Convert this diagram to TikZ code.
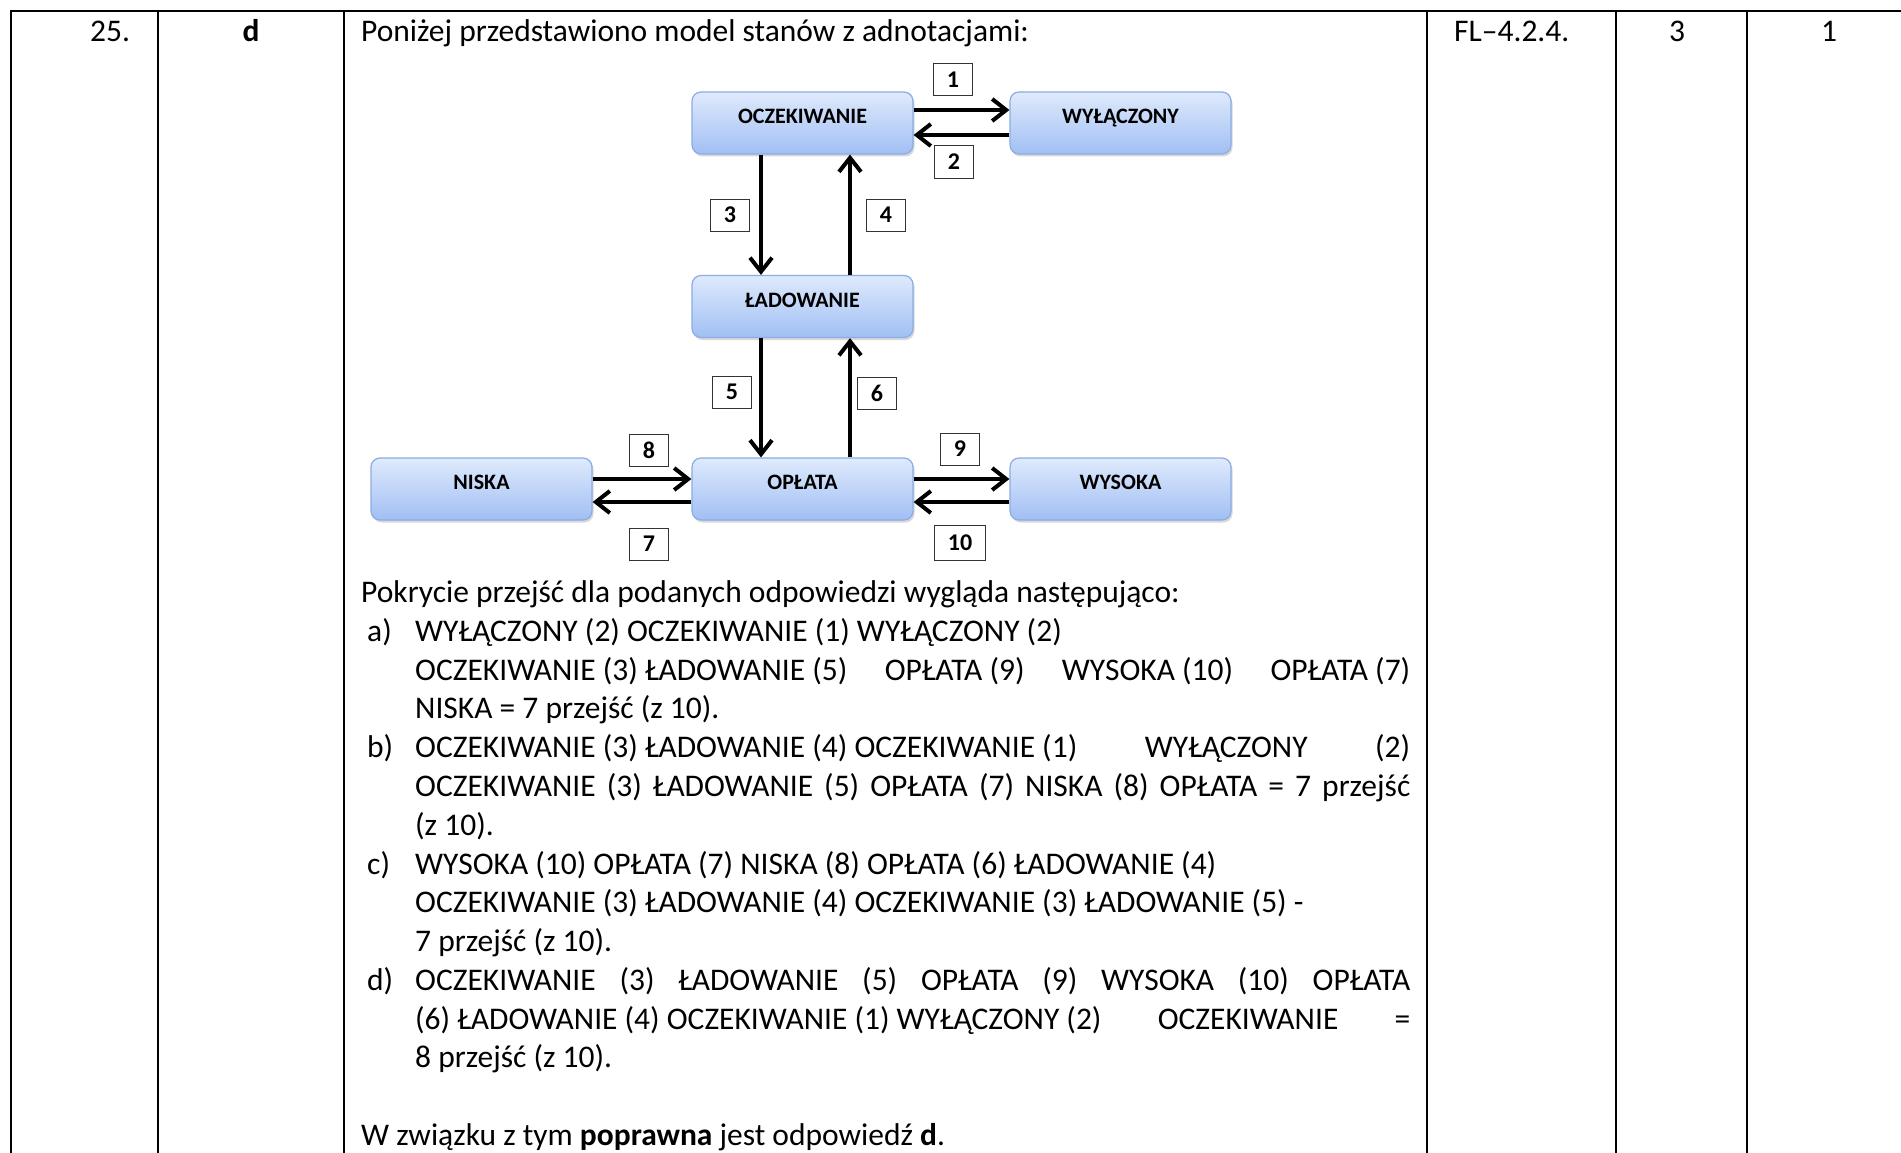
\documentclass[tikz,border=0pt]{standalone}
\usepackage{fontspec}
\setmainfont{Carlito}
\usetikzlibrary{arrows.meta,calc,shadows}
\definecolor{statetop}{HTML}{DFEAFC}
\definecolor{statebot}{HTML}{A1BFF4}
\definecolor{stateborder}{HTML}{8BACE4}
\begin{document}
\begin{tikzpicture}[x=1pt,y=-1pt,
  txt/.style={anchor=base west,inner sep=0pt,font=\fontsize{31.5}{38.8}\selectfont},
  ctr/.style={anchor=base,inner sep=0pt,font=\fontsize{31.5}{38.8}\selectfont},
  state/.style={draw=stateborder,line width=1.2pt,rounded corners=9pt,top color=statetop,bottom color=statebot,
    minimum width=221pt,minimum height=62pt,inner sep=0pt,font=\bfseries\fontsize{22}{24}\selectfont,
    drop shadow={shadow xshift=1.5pt,shadow yshift=-2.5pt,opacity=0.3}},
  num/.style={draw=black!80,line width=1pt,fill=white,minimum width=39pt,minimum height=32pt,inner sep=0pt,
    font=\bfseries\fontsize{24}{26}\selectfont},
  tr/.style={line width=4pt,-{Straight Barb[length=14pt,width=22pt]}},
  grid/.style={line width=2pt}
]
\useasboundingbox[fill=white] (0,0) rectangle (1901,1153);
% table
\draw[grid] (10,11) -- (1901,11);
\foreach \xx in {11,158,344,1427,1616,1747} { \draw[grid] (\xx,10) -- (\xx,1153); }
% header row
\node[ctr] (n25) at (110,42) {25.};
\node[ctr] (ans) at (251,42) {\textbf{d}};
\node[txt] (intro) at (361,42) {Poniżej przedstawiono model stanów z adnotacjami:};
\node[txt] (code) at (1454,42) {FL–4.2.4.};
\node[ctr] (pts) at (1677,42) {3};
\node[ctr] (one) at (1829,42) {1};
% states
\node[state] (ocz) at (802.5,123) {\raisebox{13pt}{OCZEKIWANIE}};
\node[state] (wyl) at (1120.5,123) {\raisebox{13pt}{WYŁĄCZONY}};
\node[state] (lad) at (802.5,306.5) {\raisebox{13pt}{ŁADOWANIE}};
\node[state] (opl) at (802.5,489) {\raisebox{13pt}{OPŁATA}};
\node[state] (nis) at (481.5,489) {\raisebox{13pt}{NISKA}};
\node[state] (wys) at (1120.5,489) {\raisebox{13pt}{WYSOKA}};
% transitions
\draw[tr] ($(ocz.east)+(0,-13)$) -- ($(wyl.west)+(0,-13)$);
\draw[tr] ($(wyl.west)+(0,12)$) -- ($(ocz.east)+(0,12)$);
\draw[tr] ($(ocz.south)+(-41.5,0)$) -- ($(lad.north)+(-41.5,0)$);
\draw[tr] ($(lad.north)+(47.5,0)$) -- ($(ocz.south)+(47.5,0)$);
\draw[tr] ($(lad.south)+(-41.5,0)$) -- ($(opl.north)+(-41.5,0)$);
\draw[tr] ($(opl.north)+(47.5,0)$) -- ($(lad.south)+(47.5,0)$);
\draw[tr] ($(nis.east)+(0,-10)$) -- ($(opl.west)+(0,-10)$);
\draw[tr] ($(opl.west)+(0,13)$) -- ($(nis.east)+(0,13)$);
\draw[tr] ($(opl.east)+(0,-10)$) -- ($(wys.west)+(0,-10)$);
\draw[tr] ($(wys.west)+(0,13)$) -- ($(opl.east)+(0,13)$);
% transition labels
\node[num] (l1) at (953,80) {1};
\node[num] (l2) at (954,162) {2};
\node[num] (l3) at (730,215) {3};
\node[num] (l4) at (886,215) {4};
\node[num] (l5) at (732,392) {5};
\node[num] (l6) at (877,393) {6};
\node[num] (l8) at (649,450) {8};
\node[num] (l7) at (649,544) {7};
\node[num] (l9) at (960,449) {9};
\node[num,minimum width=51pt,minimum height=35pt] (l10) at (960,543) {10};
% body text
\node[txt] (p0) at (361,602) {Pokrycie przejść dla podanych odpowiedzi wygląda następująco:};
\node[txt] (la) at (367,641) {a)};
\node[txt] (a1) at (415,641) {WYŁĄCZONY (2) OCZEKIWANIE (1) WYŁĄCZONY (2)};
\node[txt] (a2) at (415,680) {\makebox[995pt][l]{OCZEKIWANIE (3) ŁADOWANIE (5)\hfill OPŁATA (9)\hfill WYSOKA (10)\hfill OPŁATA (7)}};
\node[txt] (a3) at (415,718) {NISKA = 7 przejść (z 10).};
\node[txt] (lb) at (367,757) {b)};
\node[txt] (b1) at (415,757) {\makebox[995pt][l]{OCZEKIWANIE (3) ŁADOWANIE (4) OCZEKIWANIE (1)\hfill WYŁĄCZONY\hfill (2)}};
\node[txt] (b2) at (415,796) {\makebox[995pt][s]{OCZEKIWANIE (3) ŁADOWANIE (5) OPŁATA (7) NISKA (8) OPŁATA = 7 przejść}};
\node[txt] (b3) at (415,835) {(z 10).};
\node[txt] (lc) at (367,874) {c)};
\node[txt] (c1) at (415,874) {WYSOKA (10) OPŁATA (7) NISKA (8) OPŁATA (6) ŁADOWANIE (4)};
\node[txt] (c2) at (415,912) {OCZEKIWANIE (3) ŁADOWANIE (4) OCZEKIWANIE (3) ŁADOWANIE (5) -};
\node[txt] (c3) at (415,951) {7 przejść (z 10).};
\node[txt] (ld) at (367,990) {d)};
\node[txt] (d1) at (415,990) {\makebox[995pt][s]{OCZEKIWANIE (3) ŁADOWANIE (5) OPŁATA (9) WYSOKA (10) OPŁATA}};
\node[txt] (d2) at (415,1029) {\makebox[995pt][l]{(6) ŁADOWANIE (4) OCZEKIWANIE (1) WYŁĄCZONY (2)\hfill OCZEKIWANIE\hfill =}};
\node[txt] (d3) at (415,1067) {8 przejść (z 10).};
\node[txt] (concl) at (361,1145) {W związku z tym \textbf{poprawna} jest odpowiedź \textbf{d}.};
\end{tikzpicture}
\end{document}
